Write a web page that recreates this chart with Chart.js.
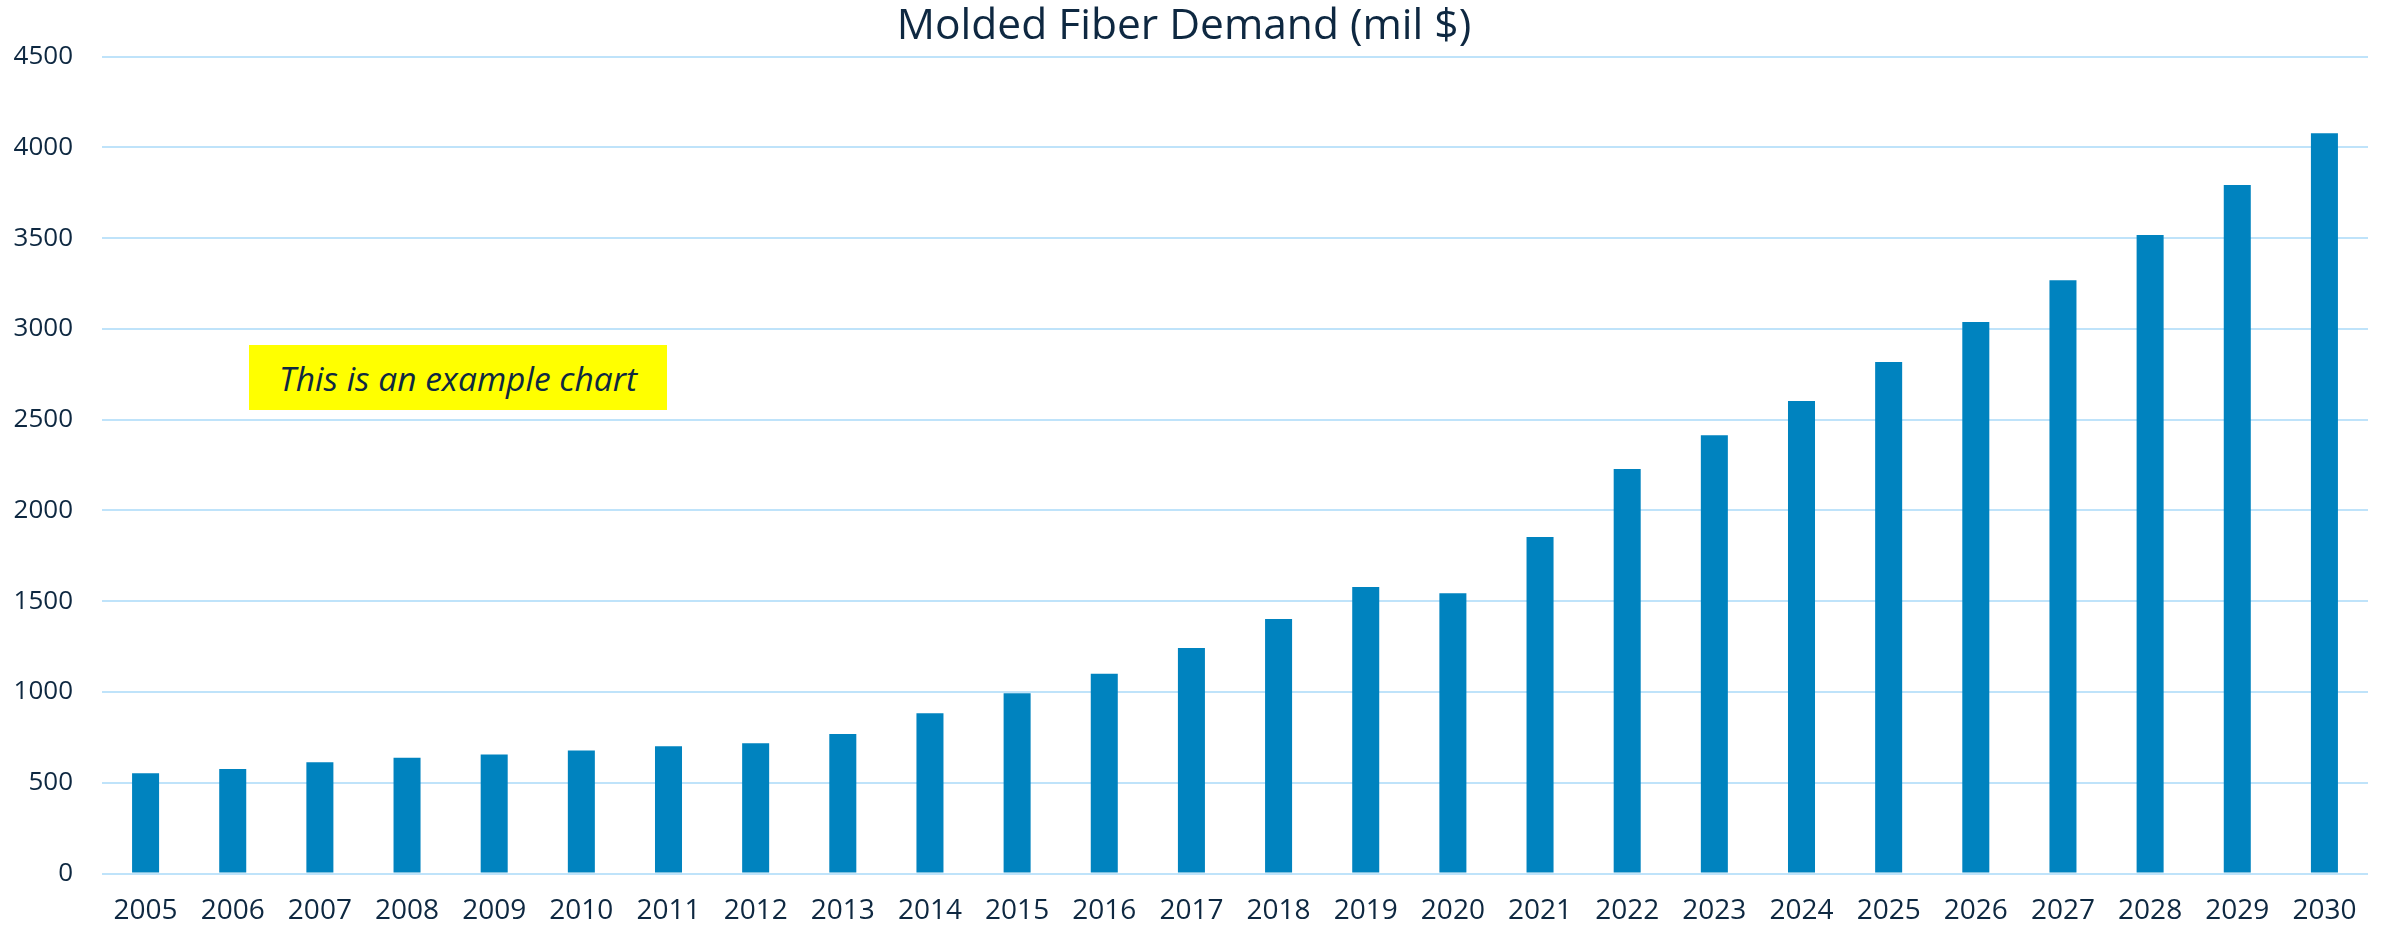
<!DOCTYPE html>
<html>
<head>
<meta charset="utf-8">
<script src="https://cdn.jsdelivr.net/npm/chart.js@4/dist/chart.umd.min.js"></script>
<style>
  html, body { margin: 0; padding: 0; background: #ffffff; }
  #wrap { position: relative; width: 2386px; height: 927px; }
  #note {
    position: absolute; left: 249px; top: 345px; width: 418px; height: 65px;
    background: #FFFF00; color: #0E2841;
    font-family: "Open Sans", sans-serif; font-style: italic; font-size: 33.5px;
    display: flex; align-items: center; justify-content: center;
  }
</style>
</head>
<body>
<div id="wrap">
  <canvas id="c" width="2386" height="927"></canvas>
  <div id="note">This is an example chart</div>
</div>
<script>
const years = ["2005","2006","2007","2008","2009","2010","2011","2012","2013","2014","2015","2016","2017","2018","2019","2020","2021","2022","2023","2024","2025","2026","2027","2028","2029","2030"];
const demand = [552, 576, 613, 638, 655, 677, 701, 717, 769, 883, 993, 1101, 1242, 1402, 1578, 1544, 1854, 2229, 2414, 2603, 2818, 3039, 3268, 3518, 3793, 4078];
const chartTitle = "Molded Fiber Demand (mil $)";
const yMin = 0, yMax = 4500, yStep = 500;

const textColor = "#0E2841";
const gridColor = "#BFE3FA";

new Chart(document.getElementById("c"), {
  type: "bar",
  data: {
    labels: years,
    datasets: [{
      label: chartTitle,
      data: demand,
      backgroundColor: "#0083BF",
      borderWidth: 0,
      barPercentage: 0.31,
      categoryPercentage: 1.0
    }]
  },
  options: {
    responsive: false,
    animation: false,
    devicePixelRatio: 1,
    layout: { padding: { left: 0, right: 18, top: 0, bottom: 0 } },
    plugins: {
      legend: { display: false },
      tooltip: { enabled: false },
      title: {
        display: true,
        text: chartTitle,
        color: textColor,
        font: { family: "Open Sans", size: 42.5, weight: "normal", lineHeight: 1.2 },
        padding: { top: 1, bottom: 4.7 }
      }
    },
    scales: {
      x: {
        grid: { display: false, drawTicks: false },
        border: { display: false },
        ticks: {
          color: textColor,
          font: { family: "Open Sans", size: 28 },
          padding: 21,
          maxRotation: 0,
          autoSkip: false
        },
        afterFit: (s) => { s.height = 53.5; }
      },
      y: {
        min: yMin,
        max: yMax,
        grid: { color: gridColor, lineWidth: 2, drawTicks: false },
        border: { display: false },
        ticks: {
          stepSize: yStep,
          color: textColor,
          font: { family: "Open Sans", size: 26 },
          padding: 29,
          callback: (v) => String(v)
        },
        afterFit: (s) => { s.width = 102; }
      }
    }
  }
});
</script>
</body>
</html>
